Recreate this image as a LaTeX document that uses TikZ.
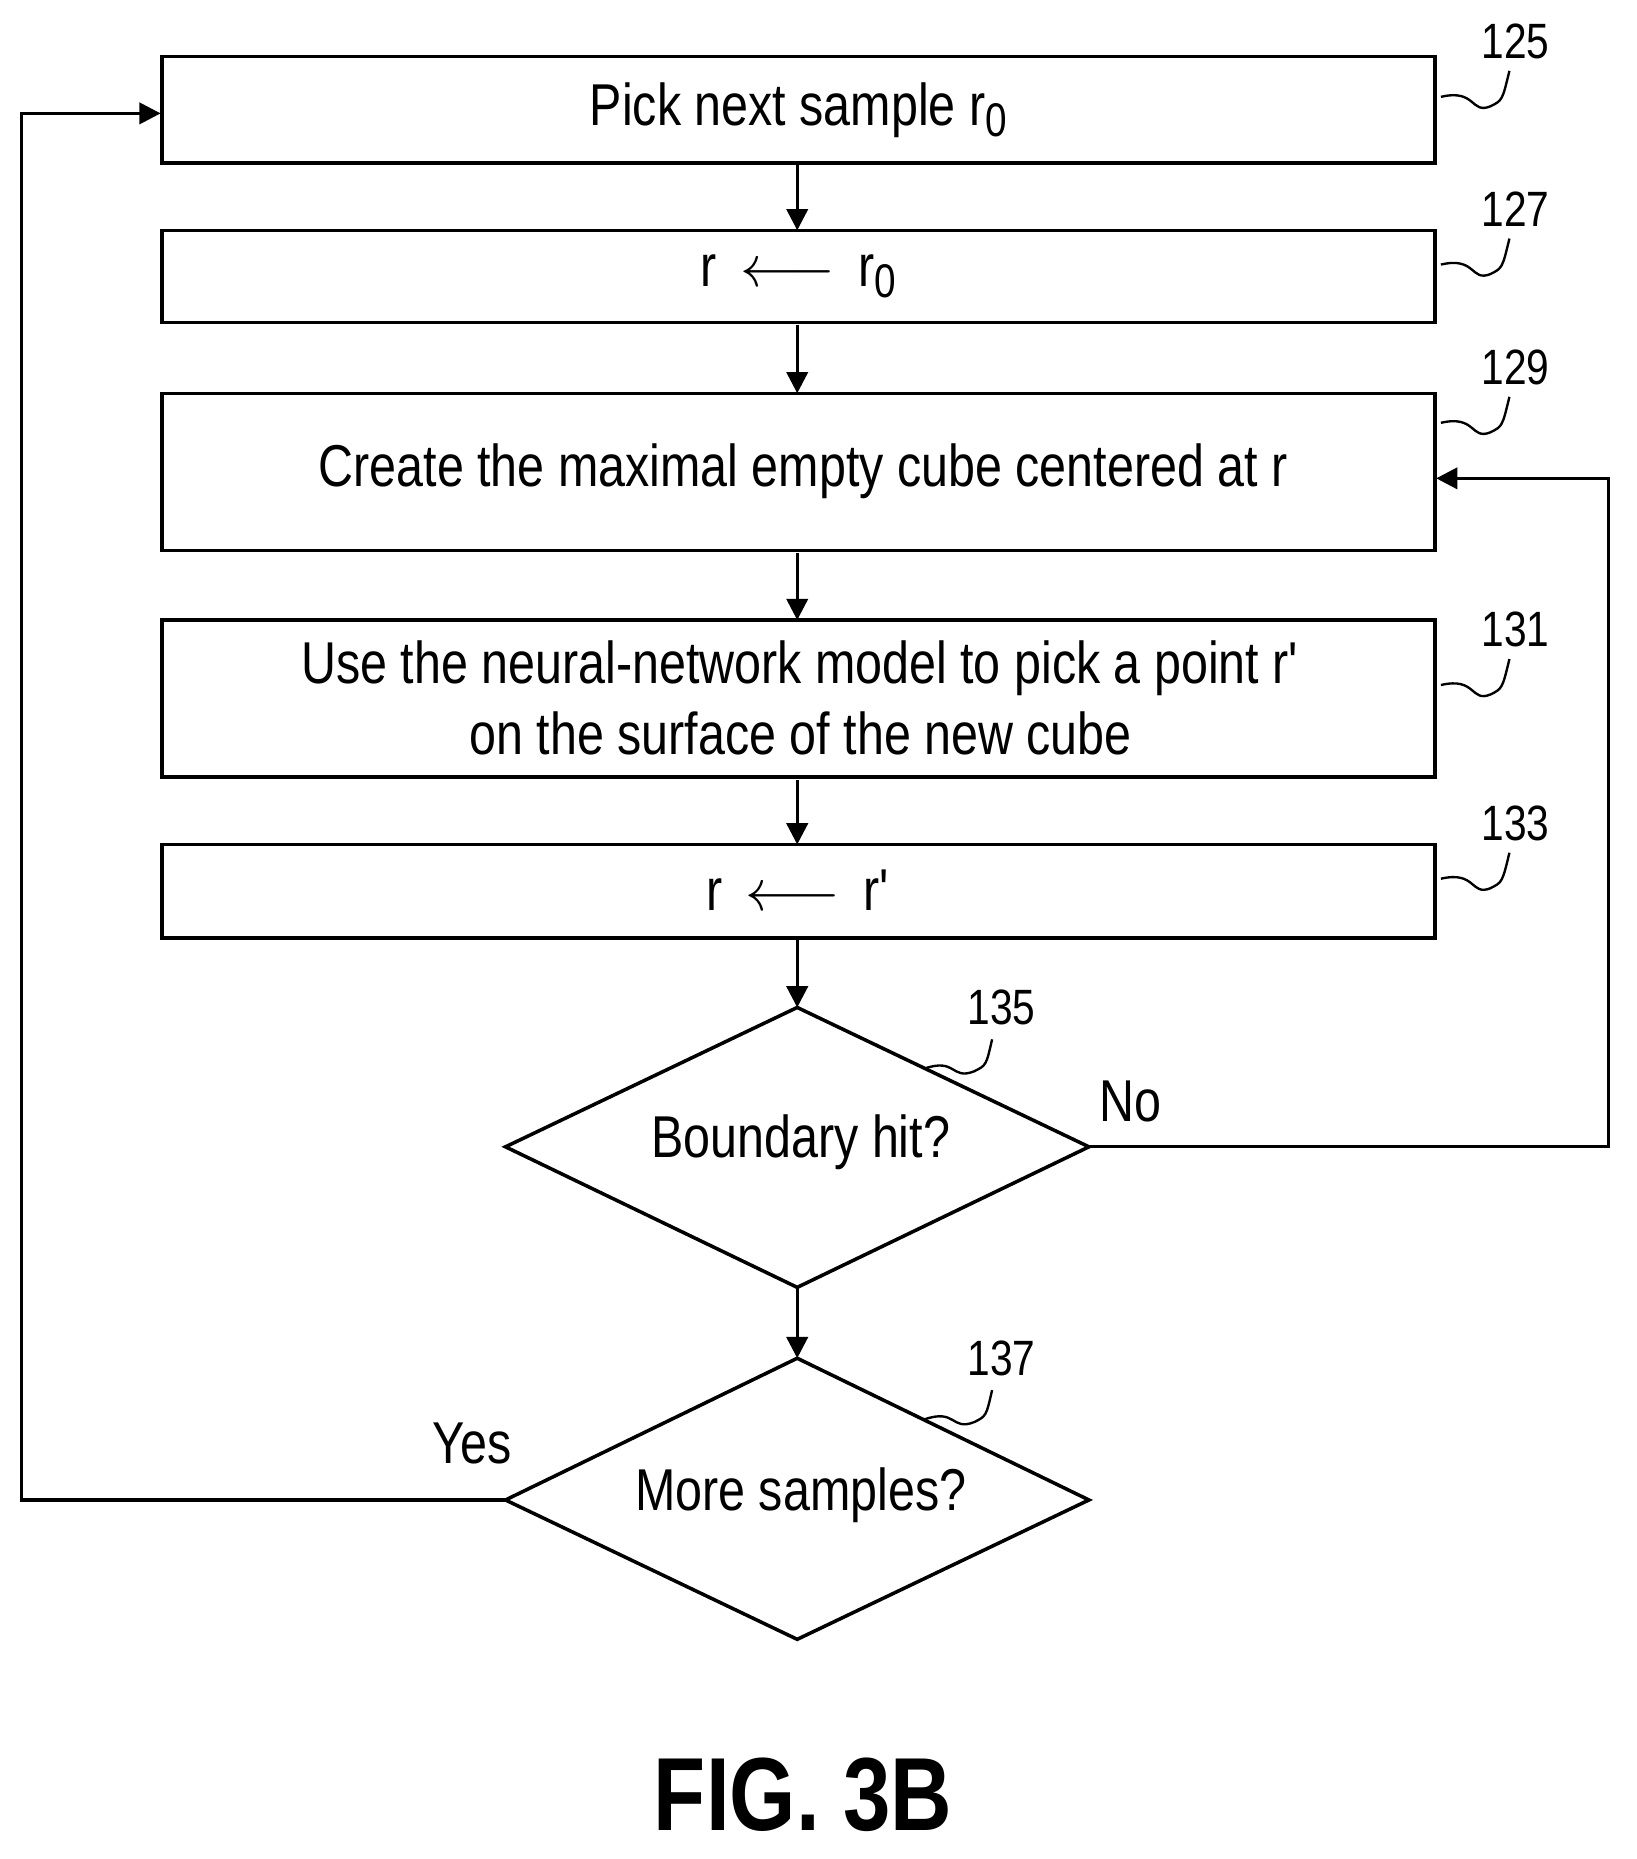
\documentclass[tikz,border=0pt]{standalone}
\usepackage{fontspec}
\setmainfont{Liberation Sans}[FakeStretch=0.82]
\usetikzlibrary{arrows.meta}
\newcommand{\mysub}[1]{\raisebox{-0.35ex}{\fontsize{20}{24}\selectfont #1}}
\begin{document}
\begin{tikzpicture}[x=0.5pt,y=-0.5pt,
  box/.style={draw,line width=1.5pt},
  arr/.style={line width=1.4pt,-{Triangle[length=9pt,width=9pt]}},
  txt/.style={font=\fontsize{25}{30}\selectfont,align=center},
  num/.style={font=\fontsize{21}{24}\selectfont},
  sq/.style={line width=1pt}]
\useasboundingbox (0,0) rectangle (1386,1574);
\draw[box] (137,48) rectangle (1215,138);
\draw[box] (137,195) rectangle (1215,273);
\draw[box] (137,333) rectangle (1215,466);
\draw[box] (137,525) rectangle (1215,658);
\draw[box] (137,715) rectangle (1215,794);
\node[txt] (b125) at (676,93) {Pick next sample r\mysub{0}};
\node[txt] (b127) at (676,234) {r \,$\longleftarrow$\, r\mysub{0}};
\node[txt] (b129) at (680,399) {Create the maximal empty cube centered at r};
\node[txt] (b131) at (678,591) {Use the neural-network model to pick a point r\textquotesingle\\on the surface of the new cube};
\node[txt] (b133) at (676,754) {r \,$\longleftarrow$\, r\textquotesingle};
\draw[line width=1.5pt] (428,971) -- (675,853) -- (922,971) -- (675,1090) -- cycle;
\draw[line width=1.5pt] (428,1270) -- (675,1150) -- (922,1270) -- (675,1388) -- cycle;
\node[txt] (d135) at (678,967) {Boundary hit?};
\node[txt] (d137) at (678,1266) {More samples?};
\draw[arr] (675,140) -- (675,195);
\draw[arr] (675,275) -- (675,333);
\draw[arr] (675,468) -- (675,525);
\draw[arr] (675,660) -- (675,715);
\draw[arr] (675,796) -- (675,853);
\draw[arr] (675,1090) -- (675,1150);
\draw[arr] (922,971) -- (1362,971) -- (1362,405) -- (1216,405);
\draw[arr] (428,1270) -- (18,1270) -- (18,96) -- (136,96);
\node[txt] (no) at (957,933) {No};
\node[txt] (yes) at (400,1222) {Yes};
\foreach \n/\y in {125/35,127/177,129/311,131/533,133/697}{
  \node[num] at (1283,\y) {\n};
  \draw[sq] (1220,\y+47) .. controls (1250,\y+40) and (1245,\y+62) .. (1262,\y+55) .. controls (1272,\y+50) .. (1278,\y+25);
}
\node[num] at (848,853) {135};
\draw[sq] (782,905) .. controls (810,895) and (805,915) .. (825,907) .. controls (835,902) .. (840,880);
\node[num] at (848,1150) {137};
\draw[sq] (782,1202) .. controls (810,1192) and (805,1212) .. (825,1204) .. controls (835,1199) .. (840,1177);
\node[font=\fontsize{44}{50}\selectfont\bfseries] (fig) at (680,1520) {FIG. 3B};
\end{tikzpicture}
\end{document}
